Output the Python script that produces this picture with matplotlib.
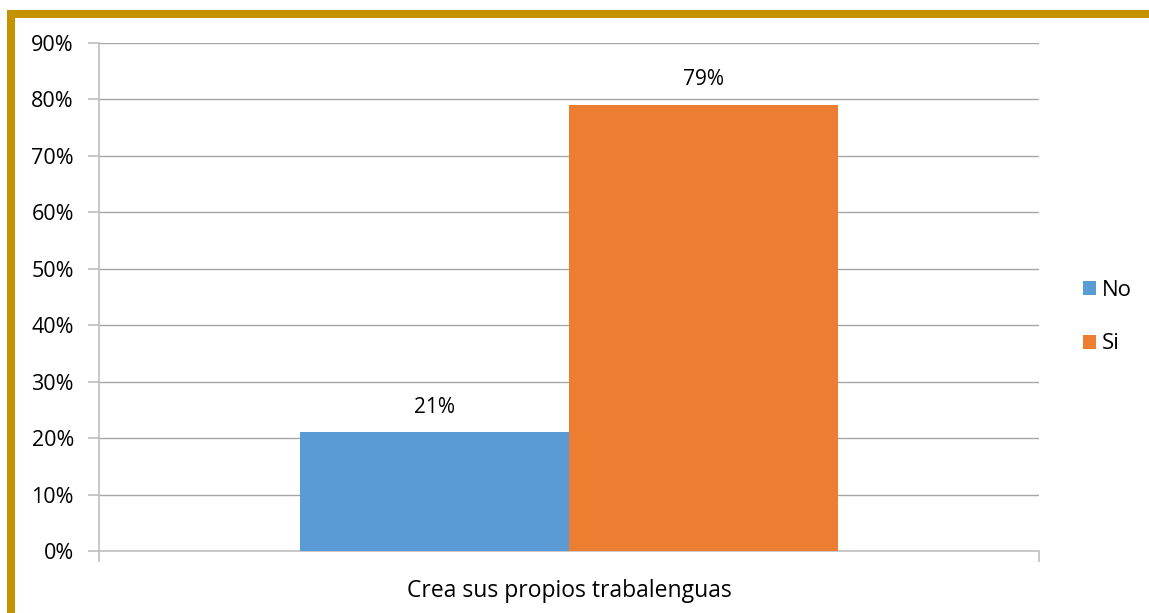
import matplotlib
matplotlib.use("Agg")
import matplotlib.pyplot as plt
from matplotlib.patches import Rectangle
import numpy as np

categories = ["Crea sus propios trabalenguas"]
series_names = ["No", "Si"]
values = [21, 79]
labels = ["21%", "79%"]
yticks = [0, 10, 20, 30, 40, 50, 60, 70, 80, 90]
colors = ["#5B9BD5", "#ED7D31"]

plt.rcParams['font.family'] = ['Open Sans', 'DejaVu Sans']

W, H = 1149, 613
fig = plt.figure(figsize=(W / 100, H / 100), dpi=100)
ax = fig.add_axes([99 / W, (H - 551) / H, 940 / W, 508 / H])

bw = 0.2857
offsets = [-bw / 2, bw / 2]
for i, (name, v, lab, c) in enumerate(zip(series_names, values, labels, colors)):
    ax.bar(0 + offsets[i], v, width=bw, color=c, label=name, zorder=3)
    ax.text(0 + offsets[i], v + 2.6, lab, ha="center", va="bottom", fontsize=15, color="#000000")

ax.set_xlim(-0.5, 0.5)
ax.set_ylim(0, 90)
ax.set_yticks(yticks)
ax.set_yticklabels([f"{t}%" for t in yticks], fontsize=15.5)
ax.set_xticks([-0.5, 0.5], minor=False)
ax.set_xticklabels(["", ""])
ax.set_xticks([0], minor=True)
ax.set_xticklabels(categories, minor=True, fontsize=16.5)
ax.tick_params(axis="x", which="minor", length=0, pad=20)
ax.tick_params(axis="x", which="major", length=8, color="#BFBFBF", width=1.2)
ax.tick_params(axis="y", length=8, color="#BFBFBF", width=1.2, pad=10)
ax.grid(axis="y", color="#A6A6A6", linewidth=1.0, zorder=0)
for s in ["top", "right"]:
    ax.spines[s].set_visible(False)
ax.spines["left"].set_color("#BFBFBF")
ax.spines["bottom"].set_color("#BFBFBF")
ax.spines["left"].set_linewidth(1.2)
ax.spines["bottom"].set_linewidth(1.2)

ax.legend(loc="center left", bbox_to_anchor=(1.035, 0.46), frameon=False,
          fontsize=16, handlelength=0.6, handleheight=0.6, handletextpad=0.25,
          labelspacing=1.45, borderpad=0)

gold = "#C49300"
fig.add_artist(Rectangle((7 / W, (H - 18) / H), (W - 7) / W, 8 / H,
                         transform=fig.transFigure, color=gold, lw=0))
fig.add_artist(Rectangle((7 / W, 0), 8 / W, (H - 10) / H,
                         transform=fig.transFigure, color=gold, lw=0))

fig.savefig("out.png", dpi=100)
